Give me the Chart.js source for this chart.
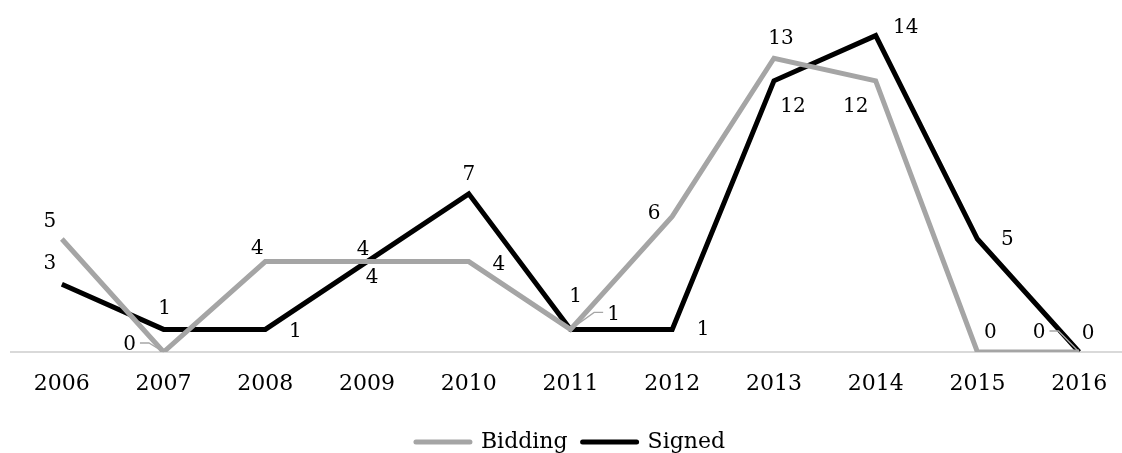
<!DOCTYPE html>
<html>
<head>
<meta charset="utf-8">
<script src="https://cdn.jsdelivr.net/npm/chart.js@4"></script>
<style>
  html, body { margin: 0; padding: 0; background: #ffffff; overflow: hidden; }
  #wrap { width: 1130px; height: 463px; position: relative; }
</style>
</head>
<body>
<div id="wrap"><canvas id="chart"></canvas></div>
<script>
// Contracts per year
const years = ['2006', '2007', '2008', '2009', '2010', '2011', '2012', '2013', '2014', '2015', '2016'];
const bidding = [5, 0, 4, 4, 4, 1, 6, 13, 12, 0, 0];
const signed = [3, 1, 1, 4, 7, 1, 1, 12, 14, 5, 0];

// Where each value label sits relative to its point (pixels), and which ones get a leader line
const labelPlacement = {
  Bidding: {
    dx: [-12, -34, -8, -4, 30, 43, -18, 7, -20, 13, -40],
    dy: [-17, -7, -13, -12, 3, -15, -3, -19, 26, -19, -19],
    leader: [false, true, false, false, false, true, false, false, false, false, true]
  },
  Signed: {
    dx: [-12, 1, 30, 5, 0, 5, 31, 19, 30, 30, 9],
    dy: [-20, -21, 2, 16, -19, -33, 0, 26, -8, 1, -18],
    leader: [false, false, false, false, false, false, false, false, false, false, false]
  }
};

const FONT = "'DejaVu Serif', serif";

const valueLabels = {
  id: 'valueLabels',
  afterDatasetsDraw(chart) {
    const ctx = chart.ctx;
    ctx.save();
    ctx.font = '20px ' + FONT;
    ctx.textAlign = 'center';
    ctx.textBaseline = 'middle';
    chart.data.datasets.forEach((ds, di) => {
      const meta = chart.getDatasetMeta(di);
      const place = labelPlacement[ds.label];
      meta.data.forEach((pt, i) => {
        const tx = pt.x + place.dx[i];
        const ty = pt.y + place.dy[i];
        const text = String(ds.data[i]);
        if (place.leader[i]) {
          const w = ctx.measureText(text).width;
          const side = pt.x > tx ? 1 : -1;
          const sx = tx + side * (w / 2 + 4);
          const hx = sx + side * 9;
          const ly = ty - 2;
          ctx.strokeStyle = '#a6a6a6';
          ctx.lineWidth = 1.3;
          ctx.beginPath();
          ctx.moveTo(sx, ly);
          ctx.lineTo(hx, ly);
          ctx.lineTo(pt.x, pt.y);
          ctx.stroke();
        }
        ctx.fillStyle = '#000000';
        ctx.fillText(text, tx, ty);
      });
    });
    ctx.restore();
  }
};

new Chart(document.getElementById('chart'), {
  type: 'line',
  data: {
    labels: years,
    datasets: [
      {
        label: 'Bidding',
        data: bidding,
        borderColor: '#a5a5a5',
        backgroundColor: '#a5a5a5',
        borderWidth: 5,
        tension: 0,
        pointRadius: 0,
        pointHoverRadius: 0,
        fill: false
      },
      {
        label: 'Signed',
        data: signed,
        borderColor: '#000000',
        backgroundColor: '#000000',
        borderWidth: 5,
        tension: 0,
        pointRadius: 0,
        pointHoverRadius: 0,
        fill: false
      }
    ]
  },
  options: {
    responsive: true,
    maintainAspectRatio: false,
    animation: false,
    layout: { padding: { top: 13, left: 11, right: 0, bottom: 0 } },
    scales: {
      x: {
        offset: true,
        grid: { display: false, drawTicks: false },
        border: { display: true, color: '#d9d9d9', width: 2 },
        ticks: {
          color: '#000000',
          font: { family: FONT, size: 22, lineHeight: 1.0 },
          padding: 21,
          maxRotation: 0,
          autoSkip: false
        }
      },
      y: {
        display: false,
        min: 0,
        max: 15
      }
    },
    plugins: {
      tooltip: { enabled: false },
      legend: {
        position: 'bottom',
        labels: {
          usePointStyle: true,
          pointStyleWidth: 54,
          padding: 15,
          color: '#000000',
          font: { family: FONT, size: 22 },
          generateLabels(chart) {
            return chart.data.datasets.map((ds, i) => ({
              text: ds.label,
              datasetIndex: i,
              pointStyle: 'line',
              strokeStyle: ds.borderColor,
              fillStyle: ds.borderColor,
              lineWidth: 5,
              lineCap: 'round',
              fontColor: '#000000',
              hidden: false
            }));
          }
        }
      }
    }
  },
  plugins: [valueLabels]
});
</script>
</body>
</html>
